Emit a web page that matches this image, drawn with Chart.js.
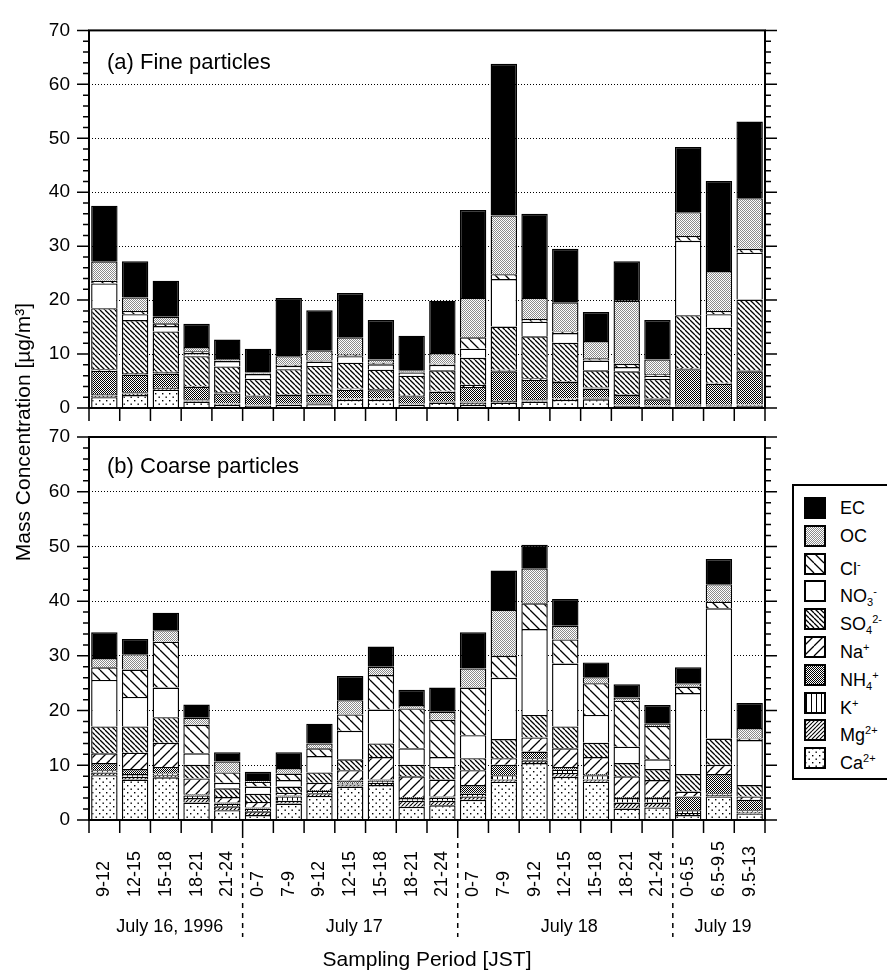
<!DOCTYPE html>
<html>
<head>
<meta charset="utf-8">
<script src="https://cdn.jsdelivr.net/npm/chart.js@4.4.1/dist/chart.umd.min.js"></script>
<style>
  body { margin: 0; background: #fff; }
  #wrap { position: relative; width: 887px; height: 979px; font-family: "Liberation Sans", Arial, sans-serif; }
  #wrap canvas.chart { position: absolute; left: 0; top: 0; }
  #legend { position: absolute; left: 792px; top: 484px; width: 95px; height: 296px; border: 2px solid #000; border-right: none; box-sizing: border-box; background: #fff; }
  .row { position: absolute; left: 10px; height: 22px; font-size: 18px; line-height: 22px; white-space: nowrap; }
  .row canvas { position: absolute; left: 0; top: 0; }
  .row span.t { position: absolute; left: 36px; top: 0; }
  .row sub { font-size: 11px; vertical-align: -4px; }
  .row sup { font-size: 11px; vertical-align: 7px; }
</style>
</head>
<body>
<div id="wrap">
  <canvas id="fine" class="chart" width="887" height="979"></canvas>
  <canvas id="coarse" class="chart" width="887" height="979"></canvas>
  <div id="legend"></div>
</div>
<script>
// sampling periods
const categories = ['9-12', '12-15', '15-18', '18-21', '21-24',
  '0-7', '7-9', '9-12', '12-15', '15-18', '18-21', '21-24',
  '0-7', '7-9', '9-12', '12-15', '15-18', '18-21', '21-24',
  '0-6.5', '6.5-9.5', '9.5-13'];
const dayLabels = ['July 16, 1996', 'July 17', 'July 18', 'July 19'];
const daySpans = [5, 7, 7, 3];
const yTicks = [0, 10, 20, 30, 40, 50, 60, 70];

// (a) fine particles, µg/m3
const fineCa  = [2.0, 2.4, 3.4, 1.2, 0.6, 0.4, 0.6, 0.7, 1.5, 1.5, 0.6, 1.0, 0.6, 1.0, 1.2, 1.5, 1.6, 0.4, 0.3, 0.3, 0.3, 0.4];
const fineMg  = [0.3, 0.3, 0.3, 0.2, 0.2, 0.1, 0.1, 0.2, 0.2, 0.2, 0.1, 0.2, 0.4, 0.3, 0.2, 0.2, 0.2, 0.1, 0.1, 0.2, 0.2, 0.2];
const fineK   = [0.3, 0.2, 0.2, 0.2, 0.1, 0.1, 0.1, 0.1, 0.1, 0.1, 0.1, 0.1, 0.2, 0.2, 0.2, 0.1, 0.1, 0.1, 0.1, 0.1, 0.1, 0.1];
const fineNH4 = [4.3, 3.3, 2.5, 2.3, 1.8, 1.6, 1.6, 1.5, 1.6, 1.5, 1.4, 1.7, 2.7, 5.3, 3.6, 3.0, 1.7, 1.8, 1.1, 6.6, 3.9, 6.1];
const fineNa  = [0.3, 0.3, 0.3, 0.2, 0.2, 0.2, 0.2, 0.2, 0.2, 0.2, 0.2, 0.2, 0.4, 0.3, 0.3, 0.2, 0.2, 0.2, 0.2, 0.2, 0.2, 0.2];
const fineSO4 = [11.3, 9.8, 7.5, 5.5, 4.8, 3.0, 4.6, 5.1, 4.8, 3.6, 3.6, 3.8, 5.0, 8.0, 7.8, 7.1, 3.2, 4.2, 3.6, 9.8, 10.2, 13.1];
const fineNO3 = [4.6, 1.1, 1.0, 0.6, 1.0, 0.9, 0.6, 0.8, 1.2, 1.0, 0.6, 1.0, 1.7, 8.8, 2.7, 1.8, 1.8, 0.8, 0.6, 13.8, 2.5, 8.7];
const fineCl  = [0.5, 0.6, 0.5, 0.3, 0.1, 0.1, 0.2, 0.2, 0.3, 0.3, 0.1, 0.2, 2.1, 0.9, 0.5, 0.3, 0.4, 0.6, 0.3, 0.9, 0.6, 0.7];
const fineOC  = [3.6, 2.5, 1.2, 0.8, 0.3, 0.2, 1.6, 1.9, 3.2, 0.6, 0.2, 2.0, 7.3, 10.9, 3.9, 5.4, 3.2, 11.7, 2.7, 4.4, 7.4, 9.4];
const fineEC  = [10.3, 6.7, 6.7, 4.3, 3.6, 4.4, 10.8, 7.4, 8.2, 7.3, 6.5, 9.7, 16.3, 28.1, 15.6, 9.9, 5.4, 7.3, 7.3, 12.1, 16.7, 14.2];

// (b) coarse particles, µg/m3
const coarseCa  = [8.2, 7.4, 7.8, 3.2, 1.8, 0.9, 3.0, 4.4, 6.1, 6.4, 2.4, 2.7, 3.7, 7.0, 10.4, 7.9, 7.0, 2.1, 2.3, 0.9, 4.3, 1.2];
const coarseMg  = [0.5, 0.5, 0.4, 0.8, 0.7, 0.7, 0.5, 0.5, 0.4, 0.4, 1.1, 0.8, 0.6, 0.4, 0.5, 0.7, 0.4, 1.1, 0.9, 0.4, 0.3, 0.3];
const coarseK   = [0.4, 0.5, 0.3, 0.5, 0.5, 0.5, 0.8, 0.4, 0.3, 0.4, 0.5, 0.6, 0.5, 0.8, 0.4, 0.6, 0.8, 0.8, 0.8, 0.5, 0.3, 0.3];
const coarseNH4 = [1.3, 0.9, 1.2, 0.2, 0.2, 0.2, 0.2, 0.2, 0.4, 0.2, 0.2, 0.2, 1.6, 1.9, 1.2, 0.5, 0.2, 0.2, 0.2, 2.5, 3.5, 1.9];
const coarseNa  = [1.8, 3.0, 4.4, 2.9, 1.0, 1.0, 0.5, 1.3, 1.9, 4.1, 3.8, 3.1, 2.7, 1.2, 2.6, 3.4, 3.1, 3.8, 3.1, 0.9, 1.7, 0.6];
const coarseSO4 = [4.9, 4.8, 4.7, 2.5, 1.6, 1.5, 1.1, 1.9, 2.0, 2.5, 2.1, 2.3, 2.2, 3.5, 4.1, 4.0, 2.6, 2.4, 2.0, 3.2, 4.8, 2.1];
const coarseNO3 = [8.5, 5.4, 5.4, 2.1, 1.0, 1.3, 1.2, 3.0, 5.2, 6.2, 3.0, 1.8, 4.2, 11.2, 15.7, 11.5, 5.1, 3.0, 1.8, 14.8, 23.8, 8.2];
const coarseCl  = [2.3, 5.0, 8.4, 5.2, 1.9, 0.9, 1.2, 1.4, 3.0, 6.3, 7.3, 6.8, 8.7, 4.0, 4.7, 4.4, 5.8, 8.4, 6.1, 1.2, 1.2, 0.3];
const coarseOC  = [1.7, 2.8, 2.1, 1.3, 2.0, 0.3, 1.0, 0.9, 2.6, 1.5, 0.6, 1.5, 3.5, 8.4, 6.4, 2.5, 1.1, 0.6, 0.4, 0.6, 3.2, 1.9];
const coarseEC  = [4.7, 2.8, 3.2, 2.4, 1.7, 1.5, 2.9, 3.6, 4.4, 3.7, 2.8, 4.4, 6.6, 7.2, 4.3, 4.9, 2.7, 2.4, 3.4, 2.9, 4.6, 4.6];

// stacking order, bottom to top
const seriesNames = ['Ca2+', 'Mg2+', 'K+', 'NH4+', 'Na+', 'SO42-', 'NO3-', 'Cl-', 'OC', 'EC'];
const seriesHtml = ['Ca<sup>2+</sup>', 'Mg<sup>2+</sup>', 'K<sup>+</sup>', 'NH<sub>4</sub><sup>+</sup>', 'Na<sup>+</sup>',
  'SO<sub>4</sub><sup>2-</sup>', 'NO<sub>3</sub><sup>-</sup>', 'Cl<sup>-</sup>', 'OC', 'EC'];
const fineData = [fineCa, fineMg, fineK, fineNH4, fineNa, fineSO4, fineNO3, fineCl, fineOC, fineEC];
const coarseData = [coarseCa, coarseMg, coarseK, coarseNH4, coarseNa, coarseSO4, coarseNO3, coarseCl, coarseOC, coarseEC];

const FONT = '"Liberation Sans", Arial, sans-serif';

// fill patterns
function makePattern(size, draw) {
  const c = document.createElement('canvas');
  c.width = size; c.height = size;
  const g = c.getContext('2d');
  g.fillStyle = '#fff';
  g.fillRect(0, 0, size, size);
  g.fillStyle = '#000';
  g.strokeStyle = '#000';
  draw(g, size);
  return document.getElementById('fine').getContext('2d').createPattern(c, 'repeat');
}
function back(w) { // "\"
  return (g, s) => { g.lineWidth = w; g.beginPath();
    for (let k = -1; k <= 1; k++) { g.moveTo(0, k * s); g.lineTo(s, s + k * s); } g.stroke(); };
}
function fwd(w) { // "/"
  return (g, s) => { g.lineWidth = w; g.beginPath();
    for (let k = 0; k <= 2; k++) { g.moveTo(0, k * s); g.lineTo(s, k * s - s); } g.stroke(); };
}
const fills = [
  makePattern(7, g => { g.fillRect(1, 1, 1.4, 1.4); g.fillRect(4.5, 4.5, 1.4, 1.4); }),   // Ca
  makePattern(4, fwd(1.1)),                                                                // Mg
  makePattern(5, g => g.fillRect(2, 0, 1, 5)),                                             // K
  makePattern(2, g => { g.fillRect(0, 0, 1, 1); g.fillRect(1, 1, 1, 1); }),                // NH4
  makePattern(10, fwd(1.3)),                                                               // Na
  makePattern(5, back(1.3)),                                                               // SO4
  '#ffffff',                                                                               // NO3
  makePattern(10, back(1.3)),                                                              // Cl
  makePattern(2, g => { g.fillStyle = '#8a8a8a'; g.fillRect(0, 0, 1, 1); g.fillRect(1, 1, 1, 1); }), // OC
  '#000000'                                                                                // EC
];

function datasets(data) {
  return data.map((d, i) => ({
    label: seriesNames[i],
    data: d,
    backgroundColor: fills[i],
    borderColor: '#000',
    borderWidth: 1.4,
    barPercentage: 0.86,
    categoryPercentage: 1.0
  }));
}

// frame, minor ticks, panel text
const framePlugin = {
  id: 'frame',
  afterDatasetsDraw(chart, args, opts) {
    const ctx = chart.ctx, a = chart.chartArea;
    const ys = chart.scales.y, xs = chart.scales.x;
    const n = categories.length;
    const step = (xs.getPixelForValue(n - 1) - xs.getPixelForValue(0)) / (n - 1);
    const edge = i => xs.getPixelForValue(0) + (i - 0.5) * step;
    ctx.save();
    ctx.strokeStyle = '#000';
    ctx.fillStyle = '#000';
    ctx.lineWidth = 1.5;
    ctx.beginPath();
    for (let v = 0; v <= 70; v += 2) {
      const py = ys.getPixelForValue(v);
      const len = v % 10 === 0 ? 12 : 6;
      ctx.moveTo(a.left - len, py); ctx.lineTo(a.left, py);
      ctx.moveTo(a.right, py); ctx.lineTo(a.right + len, py);
    }
    for (let i = 0; i <= n; i++) {
      ctx.moveTo(edge(i), a.bottom); ctx.lineTo(edge(i), a.bottom + 13);
    }
    ctx.stroke();
    ctx.lineWidth = 2;
    ctx.strokeRect(a.left, a.top, a.right - a.left, a.bottom - a.top);

    ctx.font = '22px ' + FONT;
    ctx.textAlign = 'left';
    ctx.textBaseline = 'alphabetic';
    ctx.fillText(opts.panel, 107, a.top + opts.panelDy);

    if (opts.yTitle) {
      ctx.save();
      ctx.translate(30, 432);
      ctx.rotate(-Math.PI / 2);
      ctx.textAlign = 'center';
      ctx.font = '21px ' + FONT;
      ctx.fillText('Mass Concentration [\u00B5g/m\u00B3]', 0, 0);
      ctx.restore();
    }

    if (opts.xLabels) {
      ctx.font = '18px ' + FONT;
      ctx.textBaseline = 'middle';
      categories.forEach((c, i) => {
        ctx.save();
        ctx.translate(xs.getPixelForValue(i), 897);
        ctx.rotate(-Math.PI / 2);
        ctx.textAlign = 'left';
        ctx.fillText(c, 0, 0);
        ctx.restore();
      });
      // day groups and dashed separators
      let start = 0;
      ctx.textAlign = 'center';
      dayLabels.forEach((d, j) => {
        const end = start + daySpans[j];
        ctx.fillText(d, (edge(start) + edge(end)) / 2 + 4, 927);
        if (end < n) {
          ctx.save();
          ctx.lineWidth = 1.5;
          ctx.setLineDash([5, 5]);
          ctx.beginPath();
          ctx.moveTo(edge(end), a.bottom + 13);
          ctx.lineTo(edge(end), 937);
          ctx.stroke();
          ctx.restore();
        }
        start = end;
      });
      ctx.font = '21px ' + FONT;
      ctx.fillText('Sampling Period [JST]', (a.left + a.right) / 2, 960);
    }
    ctx.restore();
  }
};

function makeChart(id, data, top, bottom, frameOpts) {
  return new Chart(document.getElementById(id), {
    type: 'bar',
    data: { labels: categories, datasets: datasets(data) },
    plugins: [framePlugin],
    options: {
      responsive: false,
      animation: false,
      events: [],
      layout: { padding: { top: top, bottom: 979 - bottom, left: 0, right: 122 } },
      plugins: { legend: { display: false }, tooltip: { enabled: false }, frame: frameOpts },
      scales: {
        x: { stacked: true, display: false },
        y: {
          stacked: true,
          min: 0,
          max: 70,
          afterBuildTicks: s => { s.ticks = yTicks.map(v => ({ value: v })); },
          afterFit: s => { s.width = 89; },
          ticks: { color: '#000', font: { size: 19, family: FONT }, padding: 19 },
          grid: {
            drawTicks: false,
            lineWidth: 1,
            color: c => (c.tick && c.tick.value > 0 && c.tick.value < 70) ? '#000' : 'rgba(0,0,0,0)'
          },
          border: { display: false, dash: [1, 2] }
        }
      }
    }
  });
}

makeChart('fine', fineData, 23, 408, { panel: '(a) Fine particles', panelDy: 39, yTitle: true, xLabels: false });
makeChart('coarse', coarseData, 437, 820, { panel: '(b) Coarse particles', panelDy: 36, yTitle: false, xLabels: true });

// legend, top row first
const legend = document.getElementById('legend');
for (let k = 0; k < 10; k++) {
  const i = 9 - k;
  const row = document.createElement('div');
  row.className = 'row';
  row.style.top = (11 + k * 27.8) + 'px';
  const sw = document.createElement('canvas');
  sw.width = 22; sw.height = 22;
  const g = sw.getContext('2d');
  g.fillStyle = fills[i];
  g.fillRect(0, 0, 22, 22);
  g.strokeStyle = '#000';
  g.lineWidth = 2;
  g.strokeRect(1, 1, 20, 20);
  row.appendChild(sw);
  const t = document.createElement('span');
  t.className = 't';
  t.innerHTML = seriesHtml[i];
  row.appendChild(t);
  legend.appendChild(row);
}
</script>
</body>
</html>
